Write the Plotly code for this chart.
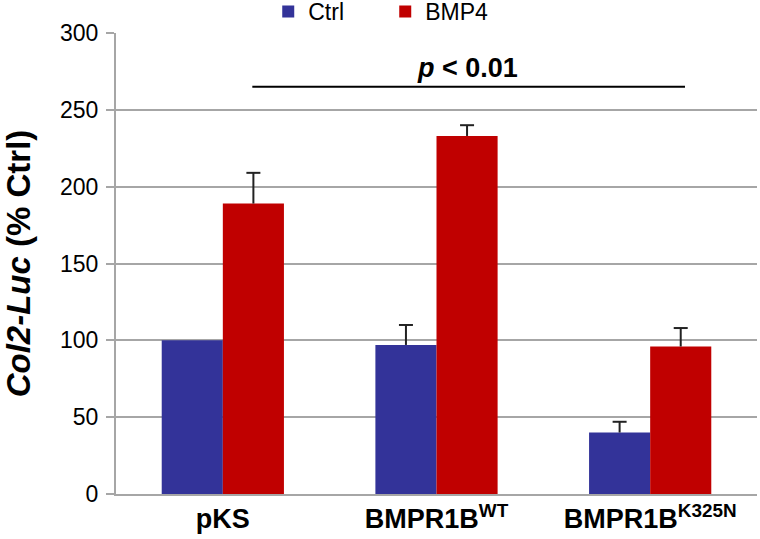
import plotly.graph_objects as go

categories = ["pKS", "BMPR1B<sup>WT</sup>", "BMPR1B<sup>K325N</sup>"]
ctrl_values = [100, 97, 40]
ctrl_errors = [0, 13, 7]
bmp4_values = [189, 233, 96]
bmp4_errors = [20, 7, 12]
sig_text = "<i>p</i> < 0.01"
sig_y = 265
tick_vals = [0, 50, 100, 150, 200, 250, 300]

FONT = "Liberation Sans, Arial, sans-serif"
BLUE = "#333399"
RED = "#C00000"
GRID = "#A6A6A6"
ERR = "#222222"

pos = list(range(len(categories)))
half = 0.143
bw = 2 * half
ctrl_x = [p - half for p in pos]
bmp4_x = [p + half for p in pos]

fig = go.Figure()
for name, xs, vals, errs, col in [("Ctrl", ctrl_x, ctrl_values, ctrl_errors, BLUE),
                                   ("BMP4", bmp4_x, bmp4_values, bmp4_errors, RED)]:
    fig.add_trace(go.Bar(
        name=name, x=xs, y=vals, width=bw, marker_color=col, marker_line_width=0,
        error_y=dict(type="data", array=errs, arrayminus=[0] * len(errs), symmetric=False,
                     color=ERR, thickness=2, width=0, visible=True),
    ))
    # caps on top of error bars
    cap_x = [x for x, e in zip(xs, errs) if e > 0]
    cap_y = [v + e for v, e in zip(vals, errs) if e > 0]
    fig.add_trace(go.Scatter(
        x=cap_x, y=cap_y, mode="markers", showlegend=False, hoverinfo="skip",
        marker=dict(symbol="line-ew", size=10, line=dict(color=ERR, width=2)),
    ))

# significance line between BMP4 bars of first and last group
fig.add_shape(type="line", xref="x", yref="y", x0=bmp4_x[0] - 0.005, x1=bmp4_x[-1] + 0.02, y0=sig_y, y1=sig_y,
              line=dict(color="black", width=2))
fig.add_annotation(x=1.145, y=sig_y, xref="x", yref="y", text="<b>" + sig_text + "</b>",
                   showarrow=False, yanchor="bottom", yshift=2,
                   font=dict(family=FONT, size=27, color="black"))

fig.update_layout(
    width=760, height=539,
    margin=dict(l=116, r=3, t=33, b=45, autoexpand=False),
    paper_bgcolor="white", plot_bgcolor="white",
    font=dict(family=FONT, color="black"),
    showlegend=True,
    legend=dict(orientation="h", x=0.2375, xanchor="left", y=1.0, yanchor="bottom",
                font=dict(family=FONT, size=23, color="black"),
                entrywidth=72, entrywidthmode="pixels",
                bgcolor="rgba(0,0,0,0)", itemsizing="constant"),
)
fig.update_xaxes(
    range=[-0.5, 2.5], tickvals=pos, ticktext=["<b>" + c + "</b>" for c in categories],
    showline=True, linecolor=GRID, linewidth=2, ticks="", showgrid=False, zeroline=False,
    tickfont=dict(family=FONT, size=27, color="black"),
)
fig.update_yaxes(
    range=[0, 300], tickvals=tick_vals, showline=True, linecolor=GRID, linewidth=2,
    ticks="outside", ticklen=8, tickcolor=GRID, tickwidth=2, ticklabelstandoff=3,
    showgrid=True, gridcolor=GRID, gridwidth=2, zeroline=False,
    tickfont=dict(family=FONT, size=23, color="black"),
    title=dict(text="<b><i>Col2-Luc</i> (% Ctrl)</b>", font=dict(family=FONT, size=33, color="black"),
               standoff=37),
)

fig.write_html("out.html", config={"displayModeBar": False},
               post_script="document.body.style.margin='0';document.body.style.overflow='hidden';")
